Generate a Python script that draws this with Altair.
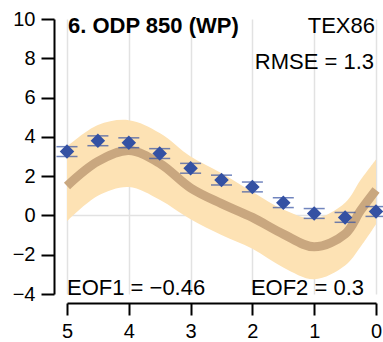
import altair as alt
import pandas as pd

# Proxy data points (age in Ma, anomaly) with error half-widths
pt_x = [5, 4.5, 4, 3.5, 3, 2.5, 2, 1.5, 1, 0.5, 0]
pt_y = [3.25, 3.8, 3.7, 3.15, 2.4, 1.8, 1.45, 0.65, 0.1, -0.1, 0.2]
pt_err = [0.25, 0.25, 0.25, 0.25, 0.25, 0.25, 0.25, 0.25, 0.25, 0.25, 0.25]

# Model fit line and its uncertainty band
fit_x = [5, 4.5, 4, 3.5, 3, 2.5, 2, 1.5, 1, 0.5, 0.25, 0]
fit_y = [1.5, 2.75, 3.3, 2.65, 1.4, 0.6, -0.1, -0.95, -1.6, -0.95, 0.25, 1.3]
fit_hi = [3.5, 4.6, 4.85, 4.2, 3.0, 2.15, 1.2, 0.3, -0.15, 0.65, 1.8, 2.85]
fit_lo = [-0.3, 1.0, 1.45, 0.8, -0.2, -1.0, -1.7, -2.65, -3.25, -2.55, -1.6, -0.45]

x_ticks = [5, 4, 3, 2, 1, 0]
y_ticks = [-4, -2, 0, 2, 4, 6, 8, 10]

title_txt = "6. ODP 850 (WP)"
proxy_txt = "TEX86"
rmse_txt = "RMSE = 1.3"
eof1_txt = "EOF1 = \u22120.46"
eof2_txt = "EOF2 = 0.3"

pts = pd.DataFrame({"x": pt_x, "y": pt_y,
                    "lo": [a - e for a, e in zip(pt_y, pt_err)],
                    "hi": [a + e for a, e in zip(pt_y, pt_err)]})
fit = pd.DataFrame({"x": fit_x, "y": fit_y, "lo": fit_lo, "hi": fit_hi})
zero = pd.DataFrame({"y": [0]})

FONT = "Liberation Sans"
BLUE = "#3451a3"

xs = alt.Scale(domain=[5, 0], nice=False, zero=False)
ys = alt.Scale(domain=[-4, 10], nice=False, zero=False)

x_axis = alt.Axis(values=x_ticks, title=None, grid=True, gridColor="#e2e2e2",
                  gridWidth=1.5, domainColor="black", domainWidth=2,
                  tickColor="black", tickWidth=2, tickSize=12, offset=9,
                  labelFontSize=20, labelFont=FONT, labelColor="black",
                  labelPadding=6, format="d", labelOverlap=False, labelBound=False,
                  labelFlush=False)
y_axis = alt.Axis(values=y_ticks, title=None, grid=False, domainColor="black",
                  domainWidth=2, tickColor="black", tickWidth=2, tickSize=13,
                  offset=13, labelFontSize=20, labelFont=FONT, labelColor="black",
                  labelPadding=6, format="d", labelOverlap=False, labelBound=False,
                  labelFlush=False)


def X(f):
    return alt.X(f, scale=xs, axis=x_axis)


def Y(f):
    return alt.Y(f, scale=ys, axis=y_axis)


band = alt.Chart(fit).mark_area(color="#fde2b4", interpolate="catmull-rom", opacity=1).encode(
    x=X("x:Q"), y=Y("lo:Q"), y2="hi:Q",
)

zero_rule = alt.Chart(zero).mark_rule(color="#e2e2e2", strokeWidth=1.5).encode(
    y=Y("y:Q")
)

line = alt.Chart(fit).mark_line(color="#c9a77f", strokeWidth=9, interpolate="catmull-rom",
                                strokeCap="butt").encode(
    x=X("x:Q"), y=Y("y:Q"),
)

err = alt.Chart(pts).mark_rule(color=BLUE, strokeWidth=1.5).encode(
    x=X("x:Q"), y=Y("lo:Q"), y2="hi:Q"
)
cap_lo = alt.Chart(pts).mark_tick(color=BLUE, orient="horizontal", size=21,
                                  thickness=1.5).encode(x=X("x:Q"), y=Y("lo:Q"))
cap_hi = alt.Chart(pts).mark_tick(color=BLUE, orient="horizontal", size=21,
                                  thickness=1.5).encode(x=X("x:Q"), y=Y("hi:Q"))
dots = alt.Chart(pts).mark_point(shape="diamond", filled=True, color=BLUE,
                                 size=210, opacity=1).encode(x=X("x:Q"), y=Y("y:Q"))


def label(txt, x, y, align, bold=False):
    return alt.Chart(pd.DataFrame({"t": [txt]})).mark_text(
        align=align, baseline="middle", fontSize=22, font=FONT,
        fontWeight="bold" if bold else "normal", color="black"
    ).encode(x=alt.value(x), y=alt.value(y), text="t:N")


texts = (label(title_txt, 1, 7, "left", True)
         + label(proxy_txt, 308, 7, "right")
         + label(rmse_txt, 307, 43, "right")
         + label(eof1_txt, 0, 269, "left")
         + label(eof2_txt, 297, 269, "right"))

chart = alt.layer(zero_rule, band, line, err, cap_lo, cap_hi, dots, texts).properties(
    width=309, height=275,
    padding={"left": 67, "top": 19, "right": 7, "bottom": 48},
    autosize=alt.AutoSizeParams(type="none"),
    background="white",
).configure_view(stroke=None).configure_axisY(labelOverlap=False, tickCount=8)

chart.save("out.html", embed_options={"renderer": "svg", "actions": False})
